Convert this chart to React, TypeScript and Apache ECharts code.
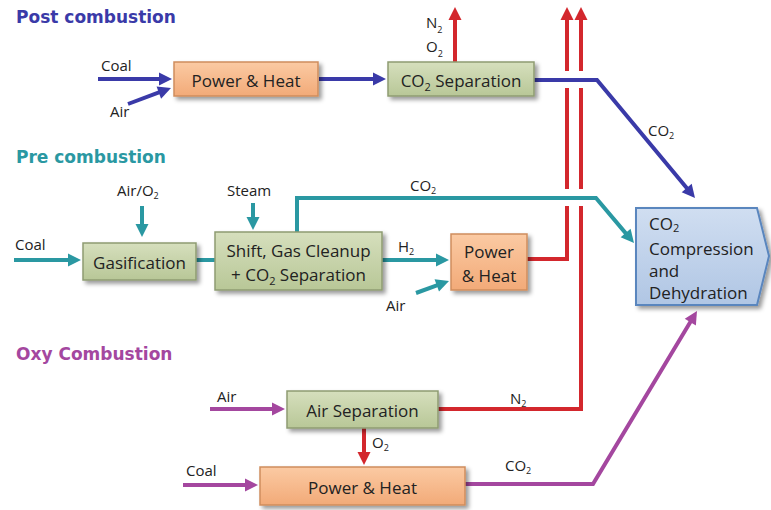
import React, { useEffect, useRef } from "react";
import * as echarts from "echarts";

const FONT = "'Open Sans', Lato, sans-serif";
const TITLE_FONT = "'DejaVu Sans', 'Open Sans', sans-serif";
const INK = "#222222";
const BLUE = "#3a3aa8";
const TEAL = "#2a98a2";
const PURPLE = "#a4479f";
const RED = "#d3272d";

// ---- texts (data) ----
const sectionTitles = ["Post combustion", "Pre combustion", "Oxy Combustion"];
const sectionColors = [BLUE, TEAL, PURPLE];
const postBoxes = ["Power & Heat", "CO{s|2} Separation"];
const preBoxes = ["Gasification", "Shift, Gas Cleanup\n+ CO{s|2} Separation", "Power\n& Heat"];
const oxyBoxes = ["Air Separation", "Power & Heat"];
const sinkBox = ["CO{s|2}", "Compression\nand\nDehydration"];
const postStreams = ["Coal", "Air", "N{s|2}\nO{s|2}", "CO{s|2}"];
const preStreams = ["Air/O{s|2}", "Coal", "Steam", "CO{s|2}", "H{s|2}", "Air"];
const oxyStreams = ["Air", "N{s|2}", "O{s|2}", "Coal", "CO{s|2}"];

// ---- layout ----
const L = {
  titles: [[16, 17], [16, 157], [16, 354]],
  post: {
    boxes: [[174, 62, 144, 34], [388, 62, 146, 34]],
    labels: [[101, 65], [110, 111], [426, 34], [648, 130]],
  },
  pre: {
    boxes: [[83, 243, 113, 37], [215, 232, 167, 58], [451, 234, 76, 56]],
    labels: [[117, 190], [15, 244], [227, 190], [410, 185], [398, 246], [386, 305]],
  },
  oxy: {
    boxes: [[287, 391, 151, 37], [260, 467, 205, 38]],
    labels: [[217, 396], [510, 398], [372, 442], [186, 470], [505, 465]],
  },
};

const subRich = (size: number, color: string, family: string) => {
  const fs = Math.round(size * 0.62);
  return { s: { fontSize: fs, lineHeight: fs + 6, verticalAlign: "bottom", fill: color, fontFamily: family } };
};

function label(text: string, x: number, y: number, opts: any = {}) {
  const size = opts.size || 15;
  const family = opts.family || FONT;
  return {
    type: "text",
    x,
    y,
    silent: true,
    style: {
      text,
      fill: opts.color || INK,
      fontSize: size,
      fontFamily: family,
      fontWeight: opts.weight || "normal",
      align: opts.align || "left",
      verticalAlign: "middle",
      lineHeight: opts.lineHeight || size + 5,
      rich: subRich(size, opts.color || INK, family),
    },
  };
}

const fills: any = {
  orange: { stops: ["#fbcaa3", "#f2aa78"], stroke: "#cf8d5d" },
  green: { stops: ["#d6dfbd", "#b8c797"], stroke: "#8e9c72" },
  blue: { stops: ["#d0def1", "#b0c6e4"], stroke: "#5a86be" },
};
const grad = (k: string) => ({
  type: "linear", x: 0, y: 0, x2: 0, y2: 1,
  colorStops: [{ offset: 0, color: fills[k].stops[0] }, { offset: 1, color: fills[k].stops[1] }],
});
const shadow = { shadowBlur: 4, shadowOffsetX: 3, shadowOffsetY: 3, shadowColor: "rgba(0,0,0,0.4)" };

function box(b: number[], kind: string, text: string, size = 17, lh = 24) {
  const [x, y, w, h] = b;
  return [
    { type: "rect", shape: { x, y, width: w, height: h }, style: { fill: grad(kind), stroke: fills[kind].stroke, lineWidth: 1.5, ...shadow } },
    label(text, x + w / 2, y + h / 2 + 1, { size, align: "center", lineHeight: lh }),
  ];
}

function flow(pts: number[][], color: string, width = 4, head = true) {
  const els: any[] = [];
  const p = pts.map((q) => q.slice());
  if (head) {
    const n = p.length;
    const [x1, y1] = p[n - 2];
    const [x2, y2] = p[n - 1];
    const dx = x2 - x1, dy = y2 - y1, len = Math.hypot(dx, dy);
    const ux = dx / len, uy = dy / len;
    const hl = 13, hw = 6.5;
    const bx = x2 - ux * hl, by = y2 - uy * hl;
    p[n - 1] = [x2 - ux * (hl - 3), y2 - uy * (hl - 3)];
    els.push({ type: "polygon", shape: { points: [[x2, y2], [bx - uy * hw, by + ux * hw], [bx + uy * hw, by - ux * hw]] }, style: { fill: color } });
  }
  els.unshift({ type: "polyline", shape: { points: p }, style: { stroke: color, lineWidth: width, fill: null, lineJoin: "miter" } });
  return els;
}

function buildGraphic() {
  const g: any[] = [];
  // titles
  sectionTitles.forEach((t, i) =>
    g.push(label(t, L.titles[i][0], L.titles[i][1], { size: 17, weight: "bold", color: sectionColors[i], family: TITLE_FONT }))
  );

  // red exhaust risers (drawn first; gaps via white masks)
  g.push(...flow([[527, 259], [567, 259], [567, 7]], RED));
  g.push(...flow([[438, 409], [581, 409], [581, 7]], RED));
  g.push({ type: "rect", shape: { x: 560, y: 71, width: 28, height: 17 }, style: { fill: "#ffffff" } });
  g.push({ type: "rect", shape: { x: 560, y: 189, width: 28, height: 17 }, style: { fill: "#ffffff" } });

  // post combustion
  g.push(...flow([[98, 79], [172, 79]], BLUE));
  g.push(...flow([[128, 104], [171, 88]], BLUE));
  g.push(...flow([[319, 79], [386, 79]], BLUE));
  g.push(...flow([[455, 62], [455, 7]], RED));
  g.push(...flow([[534, 80], [597, 80], [695, 198]], BLUE));
  g.push(...box(L.post.boxes[0], "orange", postBoxes[0]));
  g.push(...box(L.post.boxes[1], "green", postBoxes[1]));
  g.push(label(postStreams[0], L.post.labels[0][0], L.post.labels[0][1]));
  g.push(label(postStreams[1], L.post.labels[1][0], L.post.labels[1][1]));
  g.push(label(postStreams[2], L.post.labels[2][0], L.post.labels[2][1], { lineHeight: 24 }));
  g.push(label(postStreams[3], L.post.labels[3][0], L.post.labels[3][1]));

  // pre combustion
  g.push(...flow([[142, 206], [142, 237]], TEAL));
  g.push(...flow([[14, 260], [81, 260]], TEAL));
  g.push(...flow([[196, 260], [215, 260]], TEAL, 4, false));
  g.push(...flow([[253, 203], [253, 230]], TEAL));
  g.push(...flow([[297, 232], [297, 198], [596, 198], [634, 243]], TEAL));
  g.push(...flow([[382, 260], [449, 260]], TEAL));
  g.push(...flow([[416, 293], [449, 281]], TEAL));
  g.push(...box(L.pre.boxes[0], "green", preBoxes[0]));
  g.push(...box(L.pre.boxes[1], "green", preBoxes[1]));
  g.push(...box(L.pre.boxes[2], "orange", preBoxes[2]));
  preStreams.forEach((t, i) => g.push(label(t, L.pre.labels[i][0], L.pre.labels[i][1])));

  // oxy combustion
  g.push(...flow([[210, 409], [285, 409]], PURPLE));
  g.push(...flow([[364, 428], [364, 465]], RED));
  g.push(...flow([[183, 485], [258, 485]], PURPLE));
  g.push(...flow([[465, 484], [593, 484], [697, 311]], PURPLE));
  g.push(...box(L.oxy.boxes[0], "green", oxyBoxes[0]));
  g.push(...box(L.oxy.boxes[1], "orange", oxyBoxes[1]));
  oxyStreams.forEach((t, i) => g.push(label(t, L.oxy.labels[i][0], L.oxy.labels[i][1])));

  // sink
  g.push({
    type: "polygon",
    shape: { points: [[636, 208], [757, 208], [769, 256], [757, 305], [636, 305]] },
    style: { fill: grad("blue"), stroke: fills.blue.stroke, lineWidth: 2, ...shadow },
  });
  g.push(label(sinkBox[0], 649, 223, { size: 17, lineHeight: 20 }));
  g.push(label(sinkBox[1], 649, 270, { size: 17, lineHeight: 22 }));
  return g;
}

export default function App() {
  const ref = useRef<HTMLDivElement>(null);
  useEffect(() => {
    if (!ref.current) return;
    const chart = echarts.init(ref.current, undefined, { renderer: "svg" });
    chart.setOption({ animation: false, backgroundColor: "#ffffff", graphic: buildGraphic() });
    return () => chart.dispose();
  }, []);
  return <div ref={ref} style={{ position: "absolute", left: 0, top: 0, width: 771, height: 510 }} />;
}
